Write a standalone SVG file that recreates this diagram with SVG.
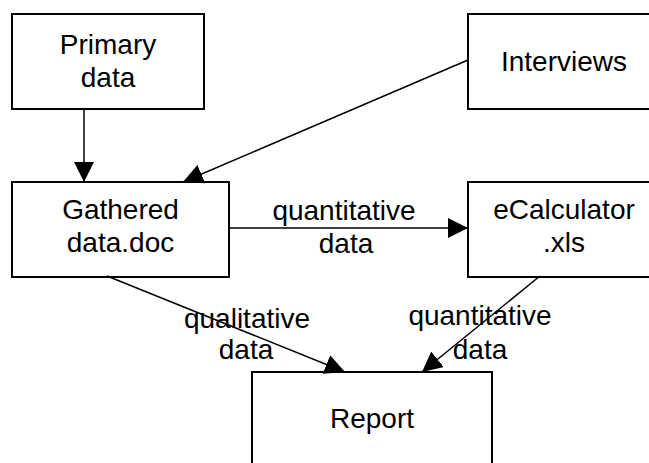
<svg xmlns="http://www.w3.org/2000/svg" width="649" height="463" viewBox="0 0 649 463">
<style>
.box{fill:#fff;stroke:#000;stroke-width:2}
.t{font-family:"Liberation Sans",Arial,sans-serif;font-size:28px;fill:#000;text-anchor:middle}
.c{stroke:#000;stroke-width:1.5;fill:none;marker-end:url(#ah)}
</style>
<defs>
<marker id="ah" markerUnits="userSpaceOnUse" markerWidth="20" markerHeight="20" refX="20" refY="10" orient="auto" viewBox="0 0 20 20">
<path d="M0,0 L20,10 L0,20 z" fill="#000"/>
</marker>
</defs>
<rect width="649" height="463" fill="#fff"/>
<g id="primary">
<rect class="box" x="12" y="14" width="192" height="95"/>
<text class="t" x="108" y="54">Primary</text>
<text class="t" x="108" y="87">data</text>
</g>
<g id="interviews">
<rect class="box" x="468" y="14" width="192" height="95"/>
<text class="t" x="564" y="71">Interviews</text>
</g>
<g id="gathered">
<rect class="box" x="12" y="182" width="217" height="95"/>
<text class="t" x="120.5" y="219">Gathered</text>
<text class="t" x="120.5" y="252">data.doc</text>
</g>
<g id="ecalculator">
<rect class="box" x="468" y="182" width="192" height="95"/>
<text class="t" x="564" y="219">eCalculator</text>
<text class="t" x="564" y="252">.xls</text>
</g>
<g id="report">
<rect class="box" x="252" y="372" width="240" height="110"/>
<text class="t" x="372" y="428">Report</text>
</g>
<g id="connectors">
<line class="c" x1="84" y1="109" x2="84" y2="182"/>
<line class="c" x1="468" y1="60" x2="183" y2="182"/>
<line class="c" x1="229" y1="228" x2="468" y2="228"/>
<line class="c" x1="107" y1="276" x2="345" y2="372"/>
<line class="c" x1="540" y1="276" x2="422" y2="372"/>
<text class="t" x="344" y="220">quantitative</text>
<text class="t" x="346" y="253">data</text>
<text class="t" x="247" y="328">qualitative</text>
<text class="t" x="246" y="359">data</text>
<text class="t" x="480" y="325">quantitative</text>
<text class="t" x="480" y="359">data</text>
</g>
</svg>
